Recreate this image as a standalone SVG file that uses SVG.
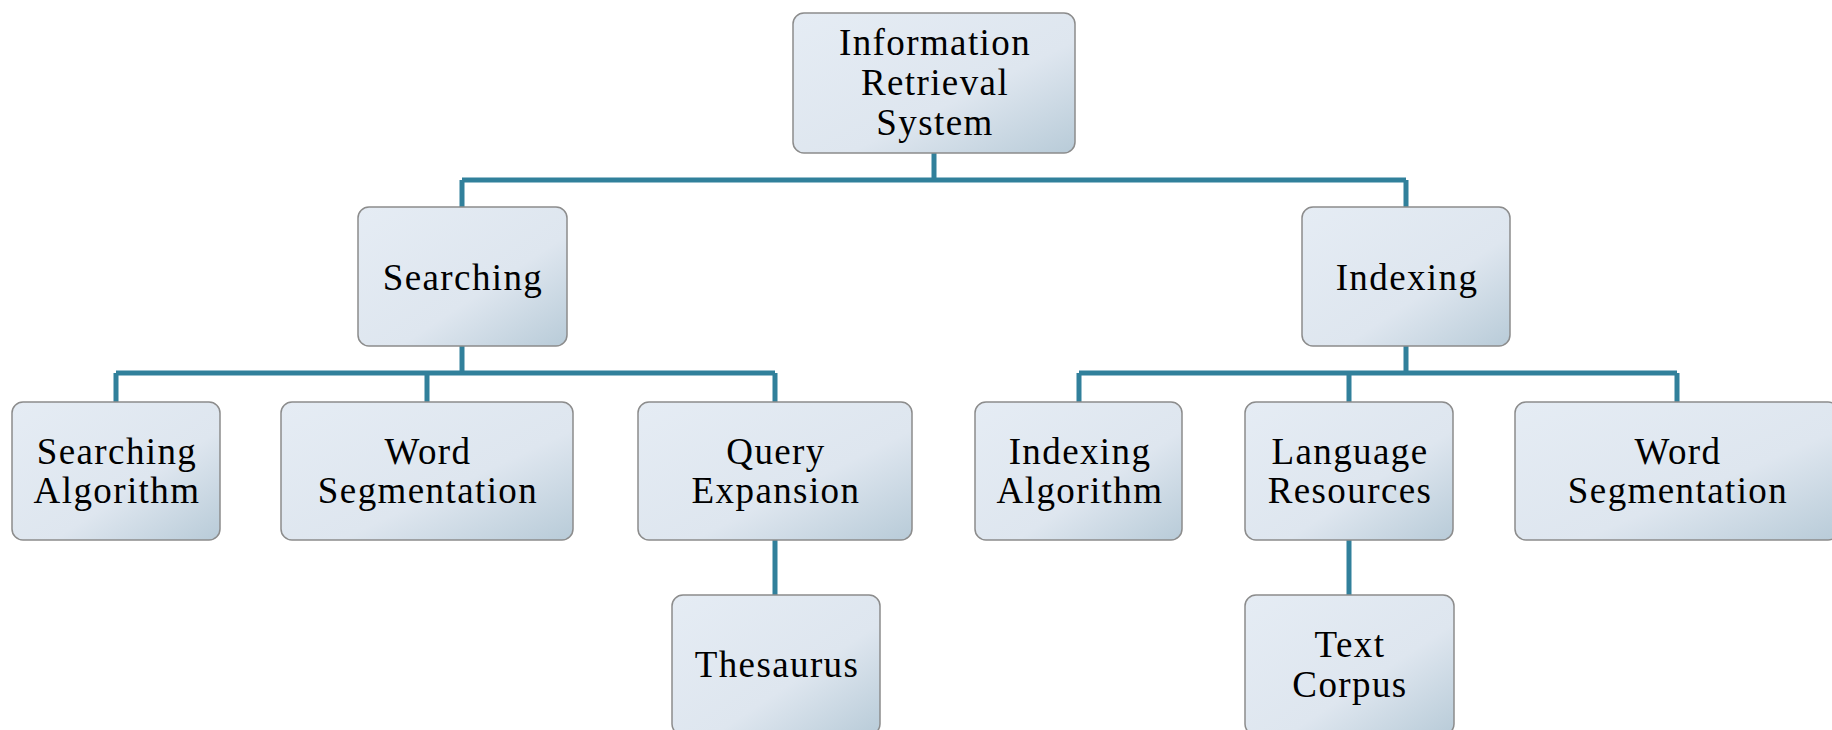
<svg xmlns="http://www.w3.org/2000/svg" width="1832" height="730" viewBox="0 0 1832 730">
<defs>
<linearGradient id="g" x1="0" y1="0" x2="1" y2="1">
<stop offset="0" stop-color="#E5ECF4"/>
<stop offset="0.6" stop-color="#DEE6EF"/>
<stop offset="1" stop-color="#B8CBD8"/>
</linearGradient>
<style>
.box{fill:url(#g);stroke:#8C8C8C;stroke-width:1.5}
.t{font-family:"Liberation Serif","Times New Roman",serif;font-size:37px;letter-spacing:1.4px;fill:#000;text-anchor:middle}
.c{fill:none;stroke:#31809B;stroke-width:5}
</style>
</defs>
<rect width="1832" height="730" fill="#fff"/>
<g id="connectors">
<path class="c" d="M934 153V180M462 180H1406M462 180V207M1406 180V207"/>
<path class="c" d="M462 346V373M116 373H775M116 373V402M427 373V402M775 373V402"/>
<path class="c" d="M1406 346V373M1079 373H1677M1079 373V402M1349 373V402M1677 373V402"/>
<path class="c" d="M775 540V595M1349 540V595"/>
</g>
<g id="n-irs"><rect class="box" x="793" y="13" width="282" height="140" rx="11"/><text class="t" x="935" y="55">Information</text><text class="t" x="935" y="95">Retrieval</text><text class="t" x="935" y="135">System</text></g>
<g id="n-searching"><rect class="box" x="358" y="207" width="209" height="139" rx="11"/><text class="t" x="463" y="290">Searching</text></g>
<g id="n-indexing"><rect class="box" x="1302" y="207" width="208" height="139" rx="11"/><text class="t" x="1407" y="290">Indexing</text></g>
<g id="n-salg"><rect class="box" x="12" y="402" width="208" height="138" rx="11"/><text class="t" x="117" y="464">Searching</text><text class="t" x="117" y="503">Algorithm</text></g>
<g id="n-wseg1"><rect class="box" x="281" y="402" width="292" height="138" rx="11"/><text class="t" x="428" y="464">Word</text><text class="t" x="428" y="503">Segmentation</text></g>
<g id="n-qexp"><rect class="box" x="638" y="402" width="274" height="138" rx="11"/><text class="t" x="776" y="464">Query</text><text class="t" x="776" y="503">Expansion</text></g>
<g id="n-ialg"><rect class="box" x="975" y="402" width="207" height="138" rx="11"/><text class="t" x="1080" y="464">Indexing</text><text class="t" x="1080" y="503">Algorithm</text></g>
<g id="n-lres"><rect class="box" x="1245" y="402" width="208" height="138" rx="11"/><text class="t" x="1350" y="464">Language</text><text class="t" x="1350" y="503">Resources</text></g>
<g id="n-wseg2"><rect class="box" x="1515" y="402" width="324" height="138" rx="11"/><text class="t" x="1678" y="464">Word</text><text class="t" x="1678" y="503">Segmentation</text></g>
<g id="n-thes"><rect class="box" x="672" y="595" width="208" height="140" rx="11"/><text class="t" x="777" y="677">Thesaurus</text></g>
<g id="n-corpus"><rect class="box" x="1245" y="595" width="209" height="140" rx="11"/><text class="t" x="1350" y="657">Text</text><text class="t" x="1350" y="697">Corpus</text></g>
</svg>
